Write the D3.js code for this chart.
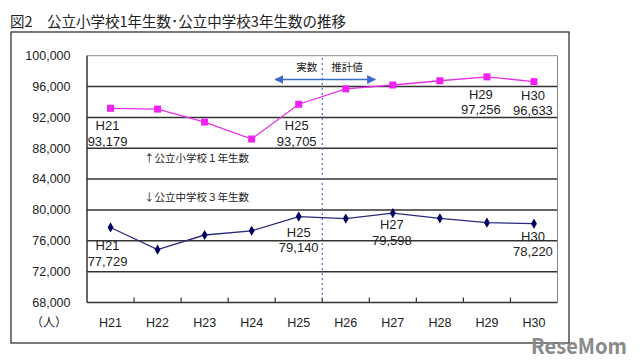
<!DOCTYPE html>
<html>
<head>
<meta charset="utf-8">
<script src="https://cdn.jsdelivr.net/npm/d3@7"></script>
<style>
  body { margin: 0; background: #fff; }
  text { font-family: "Noto Sans CJK JP", "DejaVu Sans", sans-serif; }
  .num text { font-family: "Liberation Sans", Arial, sans-serif; }
</style>
</head>
<body>
<script>
const years = ["H21", "H22", "H23", "H24", "H25", "H26", "H27", "H28", "H29", "H30"];
const elementary = [93179, 93080, 91400, 89200, 93705, 95700, 96200, 96750, 97256, 96633];
const juniorHigh = [77729, 74850, 76750, 77300, 79140, 78880, 79598, 78920, 78350, 78220];
const yTicks = [68000, 72000, 76000, 80000, 84000, 88000, 92000, 96000, 100000];
// which points get a value label
const elemLabels = ["H21", "H25", "H29", "H30"];
const juniorLabels = ["H21", "H25", "H27", "H30"];

const width = 640, height = 360;
const plot = { left: 87, right: 557.5, top: 55.7, bottom: 302.5 };

const svg = d3.select("body").append("svg")
  .attr("width", width).attr("height", height);

svg.append("rect").attr("width", width).attr("height", height).attr("fill", "#fff");

// title
svg.append("text")
  .attr("x", 10).attr("y", 27)
  .attr("font-size", 14.5)
  .attr("fill", "#222")
  .text("図2\u3000公立小学校1年生数･公立中学校3年生数の推移");

// outer frame
svg.append("rect")
  .attr("x", 11).attr("y", 32).attr("width", 558).attr("height", 311)
  .attr("fill", "none").attr("stroke", "#333").attr("stroke-width", 1.3);

const x = d3.scaleBand().domain(years).range([plot.left, plot.right]);
const y = d3.scaleLinear().domain([68000, 100000]).range([plot.bottom, plot.top]);
const fmt = d3.format(",");

// grid lines
svg.append("g")
  .selectAll("line")
  .data(yTicks)
  .join("line")
  .attr("x1", plot.left).attr("x2", plot.right)
  .attr("y1", d => y(d)).attr("y2", d => y(d))
  .attr("stroke", d => d === 100000 ? "#888" : "#333")
  .attr("stroke-width", d => d === 100000 ? 1 : 1.5);

// plot borders
svg.append("line")
  .attr("x1", plot.left).attr("x2", plot.left)
  .attr("y1", plot.top).attr("y2", plot.bottom)
  .attr("stroke", "#333").attr("stroke-width", 1.5);
svg.append("line")
  .attr("x1", plot.right).attr("x2", plot.right)
  .attr("y1", plot.top).attr("y2", plot.bottom)
  .attr("stroke", "#888").attr("stroke-width", 1);

// y axis labels
svg.append("g")
  .attr("class", "num")
  .attr("font-size", 12.5)
  .attr("fill", "#222")
  .selectAll("text")
  .data(yTicks)
  .join("text")
  .attr("x", 70.5)
  .attr("y", d => y(d))
  .attr("dy", "0.35em")
  .attr("text-anchor", "end")
  .text(d => fmt(d));

// x axis ticks
svg.append("g")
  .selectAll("line")
  .data(years.slice(1))
  .join("line")
  .attr("x1", d => x(d)).attr("x2", d => x(d))
  .attr("y1", plot.bottom).attr("y2", plot.bottom - 5)
  .attr("stroke", "#333").attr("stroke-width", 1.2);

svg.append("g")
  .attr("class", "num")
  .attr("font-size", 12.5)
  .attr("fill", "#222")
  .selectAll("text")
  .data(years)
  .join("text")
  .attr("x", d => x(d) + x.bandwidth() / 2)
  .attr("y", 327)
  .attr("text-anchor", "middle")
  .text(d => d);

svg.append("text")
  .attr("x", 49).attr("y", 327)
  .attr("font-size", 12).attr("fill", "#222")
  .attr("text-anchor", "middle")
  .text("（人）");

// boundary between actual and estimated values
const split = x("H26");
svg.append("line")
  .attr("x1", split).attr("x2", split)
  .attr("y1", 58).attr("y2", plot.bottom)
  .attr("stroke", "#4a6fc0").attr("stroke-width", 1.2)
  .attr("stroke-dasharray", "2,3");

const defs = svg.append("defs");
defs.append("marker")
  .attr("id", "arr")
  .attr("viewBox", "0 0 10 10")
  .attr("refX", 9).attr("refY", 5)
  .attr("markerWidth", 9).attr("markerHeight", 9)
  .attr("markerUnits", "userSpaceOnUse")
  .attr("orient", "auto-start-reverse")
  .append("path").attr("d", "M0,0L10,5L0,10Z").attr("fill", "#3a6cd0");

svg.append("line")
  .attr("x1", split - 47).attr("x2", split + 53)
  .attr("y1", 79.5).attr("y2", 79.5)
  .attr("stroke", "#3a6cd0").attr("stroke-width", 1.5)
  .attr("marker-start", "url(#arr)").attr("marker-end", "url(#arr)");

svg.append("text")
  .attr("x", split - 5).attr("y", 71)
  .attr("font-size", 10.5).attr("fill", "#222")
  .attr("text-anchor", "end").text("実数");
svg.append("text")
  .attr("x", split + 9).attr("y", 71)
  .attr("font-size", 10.5).attr("fill", "#222")
  .text("推計値");

// series
const cx = d => x(d) + x.bandwidth() / 2;
const line = d3.line().x(d => cx(d[0])).y(d => y(d[1]));

const elemPts = d3.zip(years, elementary);
const juniorPts = d3.zip(years, juniorHigh);

svg.append("path")
  .datum(elemPts)
  .attr("fill", "none").attr("stroke", "#e62ee6").attr("stroke-width", 1.3)
  .attr("d", line);
svg.append("g")
  .selectAll("rect")
  .data(elemPts)
  .join("rect")
  .attr("x", d => cx(d[0]) - 3.5).attr("y", d => y(d[1]) - 3.5)
  .attr("width", 7).attr("height", 7)
  .attr("fill", "#ee22ee");

svg.append("path")
  .datum(juniorPts)
  .attr("fill", "none").attr("stroke", "#2a2a80").attr("stroke-width", 1.3)
  .attr("d", line);
svg.append("g")
  .selectAll("path")
  .data(juniorPts)
  .join("path")
  .attr("transform", d => `translate(${cx(d[0])},${y(d[1])})`)
  .attr("d", d3.symbol(d3.symbolDiamond, 30))
  .attr("fill", "#000060");

// value labels: two separate lines, name above value
function labels(pts, names, offsets) {
  const g = svg.append("g").attr("class", "num")
    .attr("font-size", 13).attr("fill", "#222")
    .attr("text-anchor", "middle");
  pts.filter(d => names.includes(d[0])).forEach(d => {
    const [dx, dy] = offsets[d[0]] || [0, 0];
    g.append("text")
      .attr("x", cx(d[0]) + dx)
      .attr("y", y(d[1]) + dy)
      .text(d[0]);
    g.append("text")
      .attr("x", cx(d[0]) + dx)
      .attr("y", y(d[1]) + dy + 15.5)
      .text(fmt(d[1]));
  });
}
labels(elemPts, elemLabels, {
  H21: [-3, 22], H25: [-2, 26], H29: [-6, 22], H30: [-1, 18]
});
labels(juniorPts, juniorLabels, {
  H21: [-3, 23], H25: [0, 20], H27: [-1, 16], H30: [-1, 17]
});

// series names
svg.append("text")
  .attr("x", 144).attr("y", 162)
  .attr("font-size", 10.5).attr("fill", "#222")
  .text("↑公立小学校１年生数");
svg.append("text")
  .attr("x", 144).attr("y", 201)
  .attr("font-size", 10.5).attr("fill", "#222")
  .text("↓公立中学校３年生数");

// watermark
svg.append("text")
  .attr("x", 531).attr("y", 354)
  .attr("font-family", "Liberation Sans Narrow, DejaVu Sans Condensed, sans-serif")
  .attr("font-weight", "bold")
  .attr("font-size", 21)
  .attr("textLength", 96)
  .attr("lengthAdjust", "spacingAndGlyphs")
  .attr("fill", "#8a8a8a")
  .text("ReseMom");
</script>
</body>
</html>
